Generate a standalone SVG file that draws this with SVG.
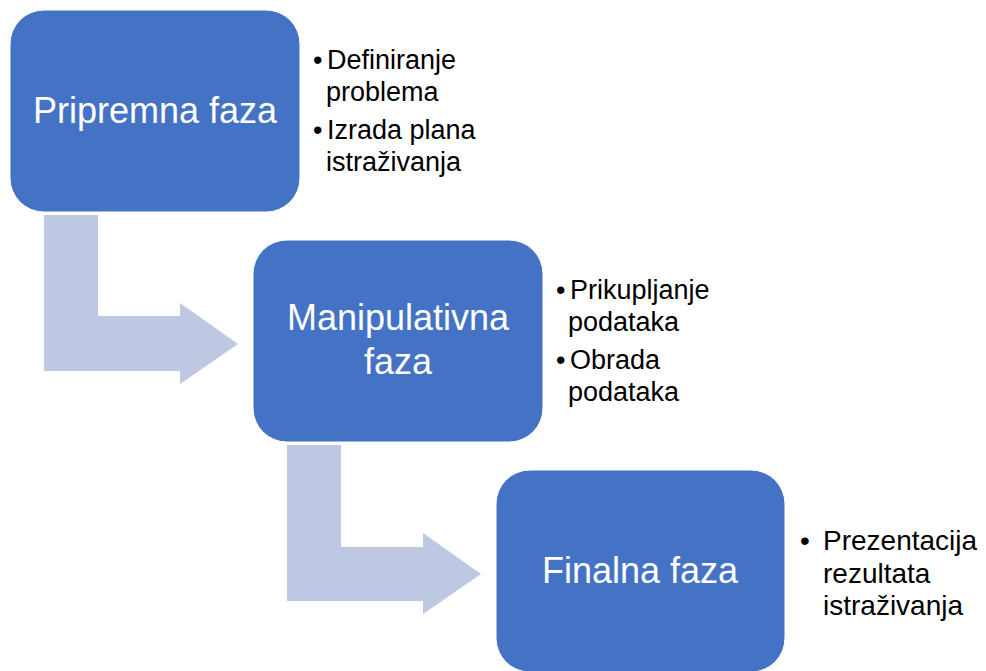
<svg xmlns="http://www.w3.org/2000/svg" width="986" height="671" viewBox="0 0 986 671">
<style>
.box{fill:#4472C4;stroke:#ffffff;stroke-width:1}
.arrow{fill:#BFC8E3}
.title{font-family:"Liberation Sans",Arial,sans-serif;font-size:36px;fill:#ffffff;text-anchor:middle}
.bul{font-family:"Liberation Sans",Arial,sans-serif;font-size:27px;fill:#000000}
.bul3{font-family:"Liberation Sans",Arial,sans-serif;font-size:28px;fill:#000000}
</style>
<rect width="986" height="671" fill="#ffffff"/>
<g id="connectors">
<path class="arrow" d="M44,215 H98 V316 H180 V303 L238,344 L180,384 V371 H44 Z"/>
<path class="arrow" d="M287,445 H341 V547 H423 V533 L481,574 L423,614 V601 H287 Z"/>
</g>
<g id="node-pripremna">
<rect class="box" x="10" y="10" width="290" height="202" rx="34" ry="34"/>
<text class="title" x="155" y="123">Pripremna faza</text>
<text class="bul"><tspan x="313" y="69">•</tspan><tspan x="327" y="69">Definiranje</tspan><tspan x="326" y="101">problema</tspan><tspan x="313" y="139">•</tspan><tspan x="327" y="139">Izrada plana</tspan><tspan x="326" y="171">istraživanja</tspan></text>
</g>
<g id="node-manipulativna">
<rect class="box" x="253" y="240" width="290" height="202" rx="34" ry="34"/>
<text class="title" x="398" y="330">Manipulativna</text>
<text class="title" x="398" y="374">faza</text>
<text class="bul"><tspan x="556" y="299">•</tspan><tspan x="570" y="299">Prikupljanje</tspan><tspan x="568" y="331">podataka</tspan><tspan x="556" y="369">•</tspan><tspan x="570" y="369">Obrada</tspan><tspan x="568" y="401">podataka</tspan></text>
</g>
<g id="node-finalna">
<rect class="box" x="496" y="470" width="289" height="202" rx="34" ry="34"/>
<text class="title" x="640" y="583">Finalna faza</text>
<text class="bul3"><tspan x="800" y="550">•</tspan><tspan x="823" y="550">Prezentacija</tspan><tspan x="823" y="583">rezultata</tspan><tspan x="823" y="615">istraživanja</tspan></text>
</g>
</svg>
